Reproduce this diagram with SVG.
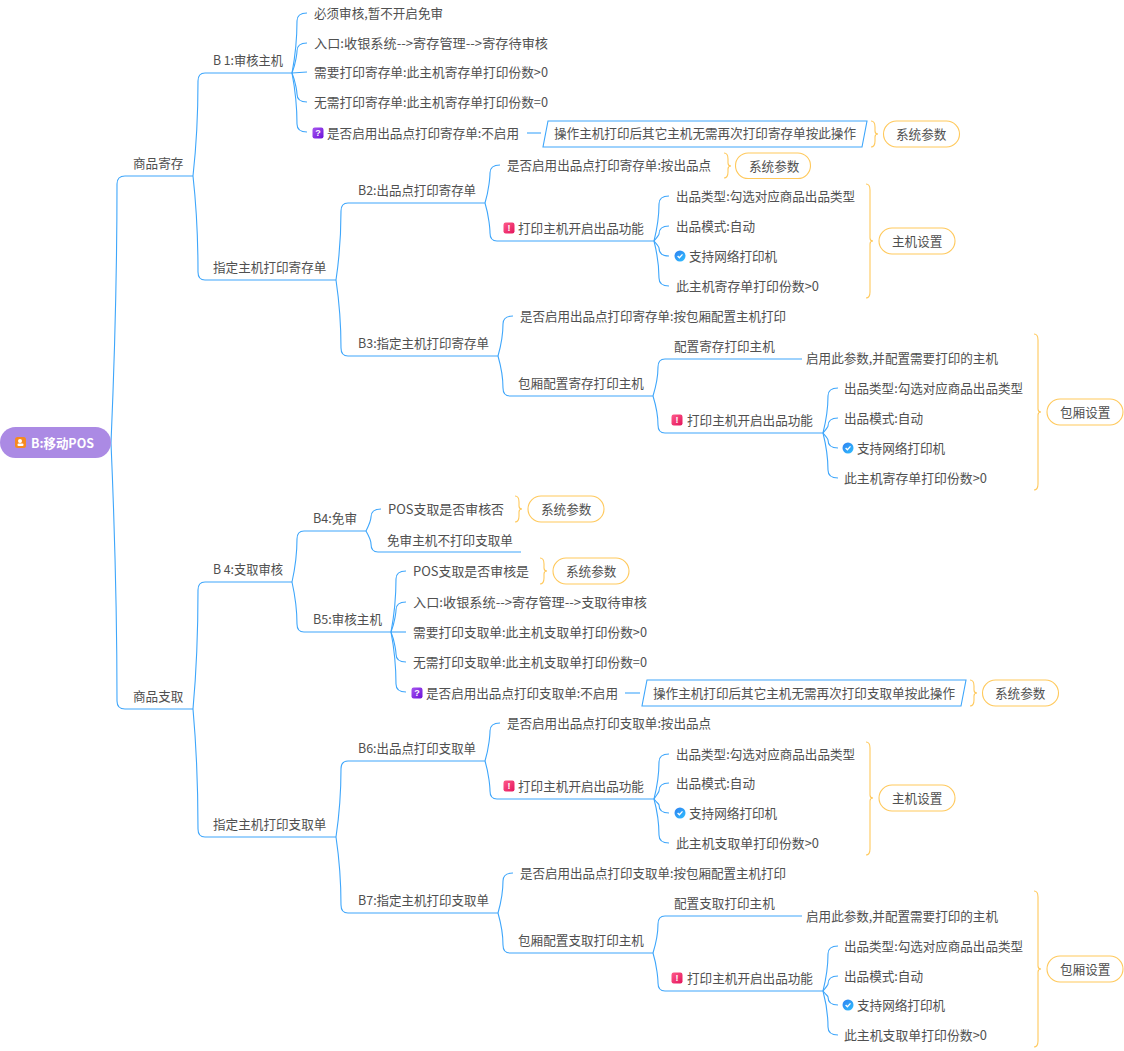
<svg xmlns="http://www.w3.org/2000/svg" width="1124" height="1051" viewBox="0 0 1124 1051">
<style>
text{font-family:"Noto Sans CJK SC","Liberation Sans",sans-serif;font-size:12.6px;fill:#505050}
.e{fill:none;stroke:#3ea6fb;stroke-width:1.1}
.b{fill:none;stroke:#ffc95c;stroke-width:1.1}
.p{fill:#fff;stroke:#ffc95c;stroke-width:1.1}
.s{fill:#fff;stroke:#3ea6fb;stroke-width:1.1}
.ic{font-family:"Liberation Sans",sans-serif;font-size:9px;font-weight:700;fill:#fff;text-anchor:middle}
</style>
<defs>
<linearGradient id="gq" x1="0" y1="0" x2="1" y2="1"><stop offset="0" stop-color="#a855f0"/><stop offset="1" stop-color="#6a11d8"/></linearGradient>
<linearGradient id="gx" x1="0" y1="0" x2="1" y2="1"><stop offset="0" stop-color="#ff5b8a"/><stop offset="1" stop-color="#e3145c"/></linearGradient>
<linearGradient id="gc" x1="0" y1="0" x2="1" y2="1"><stop offset="0" stop-color="#2f7ff0"/><stop offset="1" stop-color="#2fc0ff"/></linearGradient>
<g id="iq"><rect x="-5.5" y="-5.5" width="11" height="11" rx="2.2" fill="url(#gq)"/><text class="ic" y="3.2">?</text></g>
<g id="ix"><rect x="-5.5" y="-5.5" width="11" height="11" rx="2.2" fill="url(#gx)"/><text class="ic" y="3.2">!</text></g>
<g id="ic"><circle r="5.5" fill="url(#gc)"/><path d="M-2.4 0 L-0.6 1.8 L2.5 -1.6" fill="none" stroke="#fff" stroke-width="1.3"/></g>
</defs>
<rect width="1124" height="1051" fill="#fff"/>
<g id="connectors">
<path class="e" d="M111 443c4-93 6-187 6-259q0-8 8-8H193"/>
<path class="e" d="M111 443c4 93 6 186 6 258q0 8 8 8H193"/>
<path class="e" d="M193 176c4-36 5-72 5-95q0-8 7-8H292"/>
<path class="e" d="M193 176c4 36 5 73 5 96q0 8 7 8H336"/>
<path class="e" d="M292 73c4-21 5-42 5-52q0-8 10-8"/>
<path class="e" d="M292 73c4-10 5-21 5-22q0-8 10-8"/>
<path class="e" d="M292 73L307 72"/>
<path class="e" d="M292 73c4 10 5 20 5 21q0 8 10 8"/>
<path class="e" d="M292 73c4 21 5 41 5 51q0 8 10 8"/>
<path class="e" d="M527 133H541"/>
<path class="e" d="M336 280c4-27 5-53 5-69q0-8 7-8H485"/>
<path class="e" d="M336 280c4 27 5 53 5 68q0 8 7 8H498"/>
<path class="e" d="M485 203c4-13 5-27 5-30q0-8 10-8"/>
<path class="e" d="M485 203c4 13 5 27 5 30q0 8 7 8H654"/>
<path class="e" d="M654 241c4-16 5-32 5-37q0-8 10-8"/>
<path class="e" d="M654 241c4-5 5-6 5-7q0-8 10-8"/>
<path class="e" d="M654 241c4 5 5 6 5 7q0 8 10 8"/>
<path class="e" d="M654 241c4 16 5 32 5 37q0 8 10 8"/>
<path class="e" d="M498 356c4-14 5-28 5-32q0-8 10-8"/>
<path class="e" d="M498 356c4 14 5 28 5 32q0 8 7 8H653"/>
<path class="e" d="M653 396c4-13 5-26 5-29q0-8 7-8H802"/>
<path class="e" d="M653 396c4 13 5 26 5 29q0 8 7 8H823"/>
<path class="e" d="M823 433c4-16 5-32 5-37q0-8 10-8"/>
<path class="e" d="M823 433c4-5 5-6 5-7q0-8 10-8"/>
<path class="e" d="M823 433c4 5 5 6 5 7q0 8 10 8"/>
<path class="e" d="M823 433c4 16 5 32 5 37q0 8 10 8"/>
<path class="e" d="M193 709c4-44 5-89 5-119q0-8 7-8H292"/>
<path class="e" d="M193 709c4 45 5 90 5 120q0 8 7 8H336"/>
<path class="e" d="M292 582c4-18 5-36 5-43q0-8 7-8H366"/>
<path class="e" d="M292 582c4 18 5 35 5 42q0 8 7 8H391"/>
<path class="e" d="M366 531c4-8 5-13 5-14q0-8 10-8"/>
<path class="e" d="M366 531c4 7 5 12 5 13q0 8 7 8H521"/>
<path class="e" d="M391 632c4-21 5-43 5-53q0-8 10-8"/>
<path class="e" d="M391 632c4-10 5-21 5-22q0-8 10-8"/>
<path class="e" d="M391 632H406"/>
<path class="e" d="M391 632c4 10 5 21 5 22q0 8 10 8"/>
<path class="e" d="M391 632c4 21 5 42 5 52q0 8 10 8"/>
<path class="e" d="M625 693H640"/>
<path class="e" d="M336 837c4-27 5-53 5-68q0-8 7-8H485"/>
<path class="e" d="M336 837c4 27 5 53 5 68q0 8 7 8H498"/>
<path class="e" d="M485 761c4-13 5-27 5-30q0-8 10-8"/>
<path class="e" d="M485 761c4 13 5 27 5 30q0 8 7 8H654"/>
<path class="e" d="M654 799c4-16 5-32 5-37q0-8 10-8"/>
<path class="e" d="M654 799c4-6 5-7 5-8q0-8 10-8"/>
<path class="e" d="M654 799c4 5 5 5 5 6q0 8 10 8"/>
<path class="e" d="M654 799c4 15 5 31 5 36q0 8 10 8"/>
<path class="e" d="M498 913c4-14 5-28 5-32q0-8 10-8"/>
<path class="e" d="M498 913c4 14 5 28 5 32q0 8 7 8H653"/>
<path class="e" d="M653 953c4-13 5-26 5-29q0-8 7-8H802"/>
<path class="e" d="M653 953c4 13 5 27 5 30q0 8 7 8H823"/>
<path class="e" d="M823 991c4-16 5-32 5-37q0-8 10-8"/>
<path class="e" d="M823 991c4-5 5-6 5-7q0-8 10-8"/>
<path class="e" d="M823 991c4 5 5 5 5 6q0 8 10 8"/>
<path class="e" d="M823 991c4 15 5 31 5 36q0 8 10 8"/>
<path class="b" d="M871 121q4 0 4 6V131q0 3 3 3q-3 0-3 3V141q0 6-4 6"/>
<path class="b" d="M724 153q4 0 4 6V163q0 3 3 3q-3 0-3 3V172q0 6-4 6"/>
<path class="b" d="M866 184q4 0 4 6V238q0 3 3 3q-3 0-3 3V292q0 6-4 6"/>
<path class="b" d="M1034 334q4 0 4 6V409q0 3 3 3q-3 0-3 3V484q0 6-4 6"/>
<path class="b" d="M515 496q4 0 4 6V506q0 3 3 3q-3 0-3 3V516q0 6-4 6"/>
<path class="b" d="M540 558q4 0 4 6V568q0 3 3 3q-3 0-3 3V578q0 6-4 6"/>
<path class="b" d="M970 680q4 0 4 6V690q0 3 3 3q-3 0-3 3V700q0 6-4 6"/>
<path class="b" d="M866 742q4 0 4 6V795q0 3 3 3q-3 0-3 3V849q0 6-4 6"/>
<path class="b" d="M1034 891q4 0 4 6V966q0 3 3 3q-3 0-3 3V1041q0 6-4 6"/>
</g>
<g id="root"><rect x="0" y="427" width="111" height="31" rx="15.5" fill="#ab8ae4"/><rect x="15" y="437" width="11" height="11" rx="2.5" fill="#f58a1f"/><circle cx="20" cy="441" r="2" fill="#fff"/><rect x="17.5" y="443.5" width="6" height="2.6" rx="1" fill="#fff"/><text x="31" y="448" textLength="63" lengthAdjust="spacingAndGlyphs" style="fill:#fff;font-weight:700">B:移动POS</text></g>
<g id="n1"><text x="133" y="168">商品寄存</text></g>
<g id="n2"><text x="213" y="65" textLength="70" lengthAdjust="spacingAndGlyphs">B 1:审核主机</text></g>
<g id="n3"><text x="314" y="18" textLength="129" lengthAdjust="spacingAndGlyphs">必须审核,暂不开启免审</text></g>
<g id="n4"><text x="314" y="48" textLength="234" lengthAdjust="spacingAndGlyphs">入口:收银系统--&gt;寄存管理--&gt;寄存待审核</text></g>
<g id="n5"><text x="314" y="77" textLength="234" lengthAdjust="spacingAndGlyphs">需要打印寄存单:此主机寄存单打印份数&gt;0</text></g>
<g id="n6"><text x="314" y="107" textLength="234" lengthAdjust="spacingAndGlyphs">无需打印寄存单:此主机寄存单打印份数=0</text></g>
<g id="n7"><use href="#iq" x="318" y="133"/><text x="327" y="138" textLength="192" lengthAdjust="spacingAndGlyphs">是否启用出品点打印寄存单:不启用</text></g>
<g id="n8"><path class="s" d="M548 121H867L862 147H543Z"/><text x="554" y="138" textLength="302" lengthAdjust="spacingAndGlyphs">操作主机打印后其它主机无需再次打印寄存单按此操作</text></g>
<g id="n9"><rect class="p" x="883.500" y="121" width="76" height="26" rx="13"/><text x="896" y="139">系统参数</text></g>
<g id="n10"><text x="213" y="272">指定主机打印寄存单</text></g>
<g id="n11"><text x="358" y="195" textLength="118" lengthAdjust="spacingAndGlyphs">B2:出品点打印寄存单</text></g>
<g id="n12"><text x="507" y="170" textLength="204" lengthAdjust="spacingAndGlyphs">是否启用出品点打印寄存单:按出品点</text></g>
<g id="n13"><rect class="p" x="735.500" y="153" width="75" height="25.500" rx="12.700"/><text x="749" y="171">系统参数</text></g>
<g id="n14"><use href="#ix" x="509" y="228"/><text x="518" y="233">打印主机开启出品功能</text></g>
<g id="n15"><text x="676" y="201" textLength="179" lengthAdjust="spacingAndGlyphs">出品类型:勾选对应商品出品类型</text></g>
<g id="n16"><text x="676" y="231" textLength="79" lengthAdjust="spacingAndGlyphs">出品模式:自动</text></g>
<g id="n17"><use href="#ic" x="680" y="256"/><text x="689" y="261">支持网络打印机</text></g>
<g id="n18"><text x="676" y="291" textLength="143" lengthAdjust="spacingAndGlyphs">此主机寄存单打印份数&gt;0</text></g>
<g id="n19"><rect class="p" x="879" y="228" width="76" height="26" rx="13"/><text x="892" y="246">主机设置</text></g>
<g id="n20"><text x="358" y="348" textLength="131" lengthAdjust="spacingAndGlyphs">B3:指定主机打印寄存单</text></g>
<g id="n21"><text x="520" y="321" textLength="266" lengthAdjust="spacingAndGlyphs">是否启用出品点打印寄存单:按包厢配置主机打印</text></g>
<g id="n22"><text x="518" y="388">包厢配置寄存打印主机</text></g>
<g id="n23"><text x="674" y="351">配置寄存打印主机</text></g>
<g id="n24"><text x="806" y="363" textLength="192" lengthAdjust="spacingAndGlyphs">启用此参数,并配置需要打印的主机</text></g>
<g id="n25"><use href="#ix" x="677" y="420"/><text x="687" y="425">打印主机开启出品功能</text></g>
<g id="n26"><text x="844" y="393" textLength="179" lengthAdjust="spacingAndGlyphs">出品类型:勾选对应商品出品类型</text></g>
<g id="n27"><text x="844" y="423" textLength="79" lengthAdjust="spacingAndGlyphs">出品模式:自动</text></g>
<g id="n28"><use href="#ic" x="848" y="448"/><text x="857" y="453">支持网络打印机</text></g>
<g id="n29"><text x="844" y="483" textLength="143" lengthAdjust="spacingAndGlyphs">此主机寄存单打印份数&gt;0</text></g>
<g id="n30"><rect class="p" x="1047" y="399" width="76" height="26" rx="13"/><text x="1060" y="417">包厢设置</text></g>
<g id="n31"><text x="133" y="701">商品支取</text></g>
<g id="n32"><text x="213" y="574" textLength="70" lengthAdjust="spacingAndGlyphs">B 4:支取审核</text></g>
<g id="n33"><text x="313" y="523" textLength="44" lengthAdjust="spacingAndGlyphs">B4:免审</text></g>
<g id="n34"><text x="388" y="514" textLength="116" lengthAdjust="spacingAndGlyphs">POS支取是否审核否</text></g>
<g id="n35"><rect class="p" x="528" y="496" width="76" height="26" rx="13"/><text x="541" y="514">系统参数</text></g>
<g id="n36"><text x="387" y="545">免审主机不打印支取单</text></g>
<g id="n37"><text x="313" y="624" textLength="69" lengthAdjust="spacingAndGlyphs">B5:审核主机</text></g>
<g id="n38"><text x="413" y="576" textLength="116" lengthAdjust="spacingAndGlyphs">POS支取是否审核是</text></g>
<g id="n39"><rect class="p" x="553" y="558" width="76" height="26" rx="13"/><text x="566" y="576">系统参数</text></g>
<g id="n40"><text x="413" y="607" textLength="234" lengthAdjust="spacingAndGlyphs">入口:收银系统--&gt;寄存管理--&gt;支取待审核</text></g>
<g id="n41"><text x="413" y="637" textLength="234" lengthAdjust="spacingAndGlyphs">需要打印支取单:此主机支取单打印份数&gt;0</text></g>
<g id="n42"><text x="413" y="667" textLength="234" lengthAdjust="spacingAndGlyphs">无需打印支取单:此主机支取单打印份数=0</text></g>
<g id="n43"><use href="#iq" x="417" y="693"/><text x="426" y="698" textLength="192" lengthAdjust="spacingAndGlyphs">是否启用出品点打印支取单:不启用</text></g>
<g id="n44"><path class="s" d="M647 680H966L961 706H642Z"/><text x="653" y="698" textLength="302" lengthAdjust="spacingAndGlyphs">操作主机打印后其它主机无需再次打印支取单按此操作</text></g>
<g id="n45"><rect class="p" x="982.500" y="680" width="76" height="26" rx="13"/><text x="995" y="698">系统参数</text></g>
<g id="n46"><text x="213" y="829">指定主机打印支取单</text></g>
<g id="n47"><text x="358" y="753" textLength="118" lengthAdjust="spacingAndGlyphs">B6:出品点打印支取单</text></g>
<g id="n48"><text x="507" y="728" textLength="204" lengthAdjust="spacingAndGlyphs">是否启用出品点打印支取单:按出品点</text></g>
<g id="n49"><use href="#ix" x="509" y="786"/><text x="518" y="791">打印主机开启出品功能</text></g>
<g id="n50"><text x="676" y="759" textLength="179" lengthAdjust="spacingAndGlyphs">出品类型:勾选对应商品出品类型</text></g>
<g id="n51"><text x="676" y="788" textLength="79" lengthAdjust="spacingAndGlyphs">出品模式:自动</text></g>
<g id="n52"><use href="#ic" x="680" y="813"/><text x="689" y="818">支持网络打印机</text></g>
<g id="n53"><text x="676" y="848" textLength="143" lengthAdjust="spacingAndGlyphs">此主机支取单打印份数&gt;0</text></g>
<g id="n54"><rect class="p" x="879" y="785" width="76" height="26" rx="13"/><text x="892" y="803">主机设置</text></g>
<g id="n55"><text x="358" y="905" textLength="131" lengthAdjust="spacingAndGlyphs">B7:指定主机打印支取单</text></g>
<g id="n56"><text x="520" y="878" textLength="266" lengthAdjust="spacingAndGlyphs">是否启用出品点打印支取单:按包厢配置主机打印</text></g>
<g id="n57"><text x="518" y="945">包厢配置支取打印主机</text></g>
<g id="n58"><text x="674" y="908">配置支取打印主机</text></g>
<g id="n59"><text x="806" y="921" textLength="192" lengthAdjust="spacingAndGlyphs">启用此参数,并配置需要打印的主机</text></g>
<g id="n60"><use href="#ix" x="677" y="978"/><text x="687" y="983">打印主机开启出品功能</text></g>
<g id="n61"><text x="844" y="951" textLength="179" lengthAdjust="spacingAndGlyphs">出品类型:勾选对应商品出品类型</text></g>
<g id="n62"><text x="844" y="981" textLength="79" lengthAdjust="spacingAndGlyphs">出品模式:自动</text></g>
<g id="n63"><use href="#ic" x="848" y="1005"/><text x="857" y="1010">支持网络打印机</text></g>
<g id="n64"><text x="844" y="1040" textLength="143" lengthAdjust="spacingAndGlyphs">此主机支取单打印份数&gt;0</text></g>
<g id="n65"><rect class="p" x="1047" y="956" width="76" height="26" rx="13"/><text x="1060" y="974">包厢设置</text></g>
</svg>
